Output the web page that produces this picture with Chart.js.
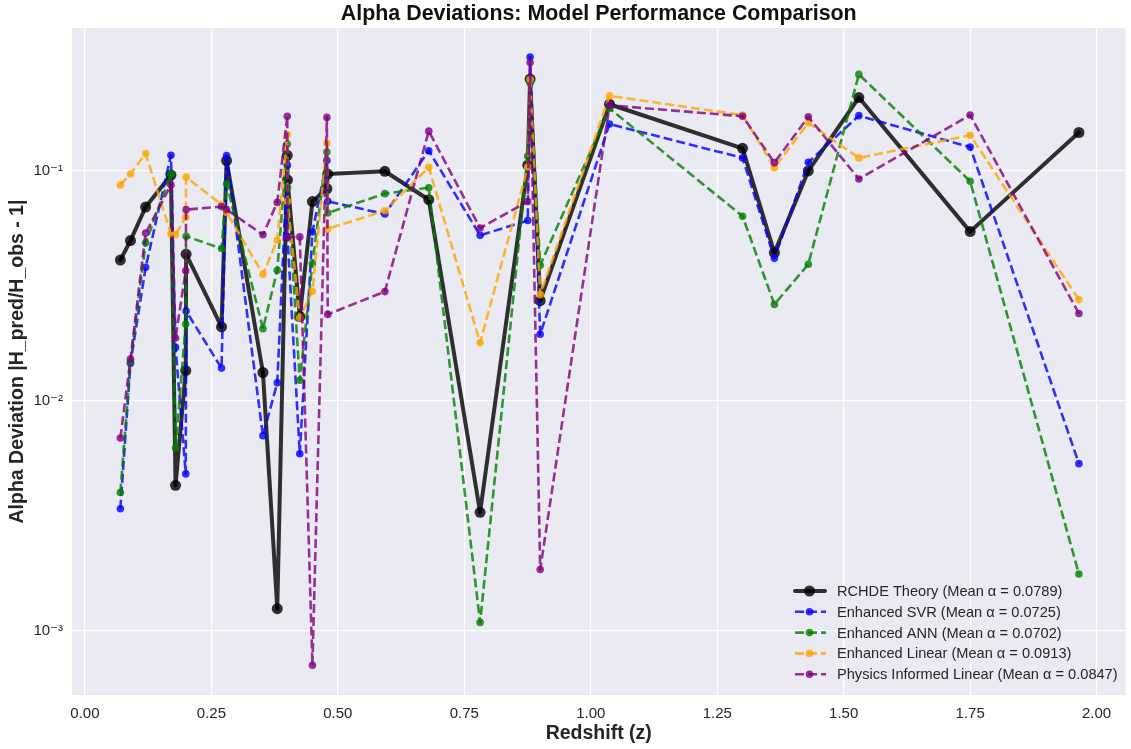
<!DOCTYPE html>
<html>
<head>
<meta charset="utf-8">
<script src="https://cdn.jsdelivr.net/npm/chart.js@4"></script>
<style>
  html, body { margin: 0; padding: 0; background: #ffffff; }
  #wrap { width: 1131px; height: 749px; }
</style>
</head>
<body>
<div id="wrap"><canvas id="alphaChart" width="1131" height="749"></canvas></div>
<script>
// redshift of each H(z) point
const redshift = [0.07, 0.09, 0.12, 0.17, 0.1791, 0.1993, 0.2, 0.27, 0.28, 0.3519,
  0.3802, 0.4, 0.4004, 0.4247, 0.4497, 0.4783, 0.48, 0.5929, 0.6797, 0.7812,
  0.8754, 0.88, 0.9, 1.037, 1.3, 1.363, 1.43, 1.53, 1.75, 1.965];

// alpha = |H_pred/H_obs - 1| per model
const rchde = [0.041, 0.0498, 0.0697, 0.096, 0.0043, 0.01355, 0.0435, 0.021, 0.111, 0.0133,
  0.00125, 0.117, 0.0914, 0.0233, 0.0736, 0.0837, 0.097, 0.0997, 0.075, 0.00328,
  0.106, 0.251, 0.0273, 0.195, 0.1255, 0.0441, 0.100, 0.2085, 0.0545, 0.147];
const svr = [0.0034, 0.0146, 0.0381, 0.117, 0.0171, 0.00482, 0.0246, 0.0139, 0.1166, 0.00706,
  0.0120, 0.106, 0.052, 0.0059, 0.0543, 0.111, 0.0738, 0.065, 0.1225, 0.0525,
  0.0609, 0.313, 0.0195, 0.160, 0.114, 0.0417, 0.109, 0.174, 0.127, 0.00534];
const ann = [0.0040, 0.0148, 0.0487, 0.097, 0.00625, 0.0216, 0.052, 0.046, 0.088, 0.0206,
  0.037, 0.131, 0.085, 0.0123, 0.0397, 0.121, 0.0657, 0.0797, 0.0846, 0.00109,
  0.116, 0.241, 0.0389, 0.187, 0.0636, 0.0263, 0.0393, 0.263, 0.0902, 0.00177];
const linear = [0.087, 0.097, 0.119, 0.0533, 0.0528, 0.063, 0.094, 0.0714, 0.066, 0.0356,
  0.050, 0.144, 0.0738, 0.023, 0.030, 0.1324, 0.056, 0.0672, 0.1038, 0.0179,
  0.104, 0.250, 0.029, 0.212, 0.175, 0.1033, 0.162, 0.114, 0.143, 0.0276];
const physics = [0.0069, 0.0152, 0.0537, 0.087, 0.0188, 0.0368, 0.0679, 0.070, 0.068, 0.0528,
  0.073, 0.173, 0.0515, 0.0517, 0.00071, 0.171, 0.0238, 0.0299, 0.149, 0.0565,
  0.0736, 0.296, 0.00185, 0.193, 0.173, 0.1087, 0.172, 0.0923, 0.175, 0.024];

const seriesNames = [
  "RCHDE Theory (Mean α = 0.0789)",
  "Enhanced SVR (Mean α = 0.0725)",
  "Enhanced ANN (Mean α = 0.0702)",
  "Enhanced Linear (Mean α = 0.0913)",
  "Physics Informed Linear (Mean α = 0.0847)"
];
const xTicks = [0, 0.25, 0.5, 0.75, 1.0, 1.25, 1.5, 1.75, 2.0];
const yTicks = [0.001, 0.01, 0.1];
const yTickLabels = ["10⁻³", "10⁻²", "10⁻¹"];

const FONT = "'Liberation Sans', Arial, 'DejaVu Sans', sans-serif";
const colors = ["rgba(0,0,0,0.8)", "rgba(0,0,255,0.8)", "rgba(0,128,0,0.8)",
  "rgba(255,165,0,0.8)", "rgba(128,0,128,0.8)"];

function pts(vals) {
  return redshift.map((z, i) => ({ x: z, y: vals[i] }));
}

function dashed(label, vals, color, order) {
  return {
    label: label,
    data: pts(vals),
    borderColor: color,
    backgroundColor: color,
    borderWidth: 2.6,
    borderDash: [9, 4],
    borderJoinStyle: "round",
    pointRadius: 3.8,
    pointBorderWidth: 0,
    pointBackgroundColor: color,
    tension: 0,
    order: order
  };
}

const bgPlugin = {
  id: "bg",
  beforeDraw(chart) {
    const { ctx, chartArea: a } = chart;
    ctx.save();
    ctx.fillStyle = "#eaeaf2";
    ctx.fillRect(a.left, a.top, a.right - a.left, a.bottom - a.top);
    ctx.restore();
  }
};

// title centred over the axes, legend in the lower right corner
const textPlugin = {
  id: "texts",
  afterDraw(chart) {
    const { ctx, chartArea: a } = chart;
    ctx.save();
    ctx.fillStyle = "#111";
    ctx.font = "bold 21.4px " + FONT;
    ctx.textAlign = "center";
    ctx.textBaseline = "middle";
    ctx.fillText("Alpha Deviations: Model Performance Comparison", (a.left + a.right) / 2, 14);

    ctx.font = "14.6px " + FONT;
    ctx.textAlign = "left";
    for (let i = 0; i < seriesNames.length; i++) {
      const y = 591 + i * 20.8;
      ctx.strokeStyle = colors[i];
      ctx.fillStyle = colors[i];
      if (i === 0) {
        ctx.lineWidth = 4;
        ctx.lineCap = "round";
        ctx.setLineDash([]);
        ctx.beginPath(); ctx.moveTo(795, y); ctx.lineTo(825, y); ctx.stroke();
        ctx.beginPath(); ctx.arc(809.5, y, 5.5, 0, Math.PI * 2); ctx.fill();
      } else {
        ctx.lineWidth = 2.6;
        ctx.lineCap = "butt";
        ctx.setLineDash([9, 4]);
        ctx.beginPath(); ctx.moveTo(795, y); ctx.lineTo(826, y); ctx.stroke();
        ctx.setLineDash([]);
        ctx.beginPath(); ctx.arc(809.5, y, 3.8, 0, Math.PI * 2); ctx.fill();
      }
      ctx.fillStyle = "#262626";
      ctx.fillText(seriesNames[i], 837, y + 1);
    }
    ctx.restore();
  }
};

new Chart(document.getElementById("alphaChart"), {
  type: "line",
  data: {
    datasets: [
      {
        label: seriesNames[0],
        data: pts(rchde),
        borderColor: colors[0],
        backgroundColor: colors[0],
        borderWidth: 4,
        borderJoinStyle: "round",
        borderCapStyle: "round",
        pointRadius: 5.5,
        pointBorderWidth: 0,
        pointBackgroundColor: colors[0],
        tension: 0,
        order: 4
      },
      dashed(seriesNames[1], svr, colors[1], 3),
      dashed(seriesNames[2], ann, colors[2], 2),
      dashed(seriesNames[3], linear, colors[3], 1),
      dashed(seriesNames[4], physics, colors[4], 0)
    ]
  },
  options: {
    responsive: false,
    animation: false,
    devicePixelRatio: 1,
    layout: { padding: { top: 28, right: 1, left: 0, bottom: 0 } },
    plugins: {
      legend: { display: false },
      title: { display: false },
      tooltip: { enabled: false }
    },
    scales: {
      x: {
        type: "linear",
        min: -0.0256,
        max: 2.0571,
        afterFit: s => { s.height = 54; },
        afterBuildTicks: s => { s.ticks = xTicks.map(v => ({ value: v })); },
        ticks: {
          padding: 10,
          color: "#262626",
          font: { family: FONT, size: 15 },
          callback: v => Number(v).toFixed(2)
        },
        grid: { color: "#ffffff", lineWidth: 1.2, drawTicks: false },
        border: { display: false },
        title: {
          display: true,
          text: "Redshift (z)",
          color: "#262626",
          font: { family: FONT, size: 19.5, weight: "bold" },
          padding: { top: 0, bottom: 4 }
        }
      },
      y: {
        type: "logarithmic",
        min: 0.000527,
        max: 0.4184,
        afterFit: s => { s.width = 72; },
        afterBuildTicks: s => { s.ticks = yTicks.map(v => ({ value: v })); },
        ticks: {
          padding: 9,
          color: "#262626",
          font: { family: FONT, size: 15 },
          callback: (v) => yTickLabels[yTicks.indexOf(v)] || ""
        },
        grid: { color: "#ffffff", lineWidth: 1.2, drawTicks: false },
        border: { display: false },
        title: {
          display: true,
          text: "Alpha Deviation |H_pred/H_obs - 1|",
          color: "#262626",
          font: { family: FONT, size: 19.5, weight: "bold" },
          padding: { top: 6, bottom: 0 }
        }
      }
    }
  },
  plugins: [bgPlugin, textPlugin]
});
</script>
</body>
</html>
